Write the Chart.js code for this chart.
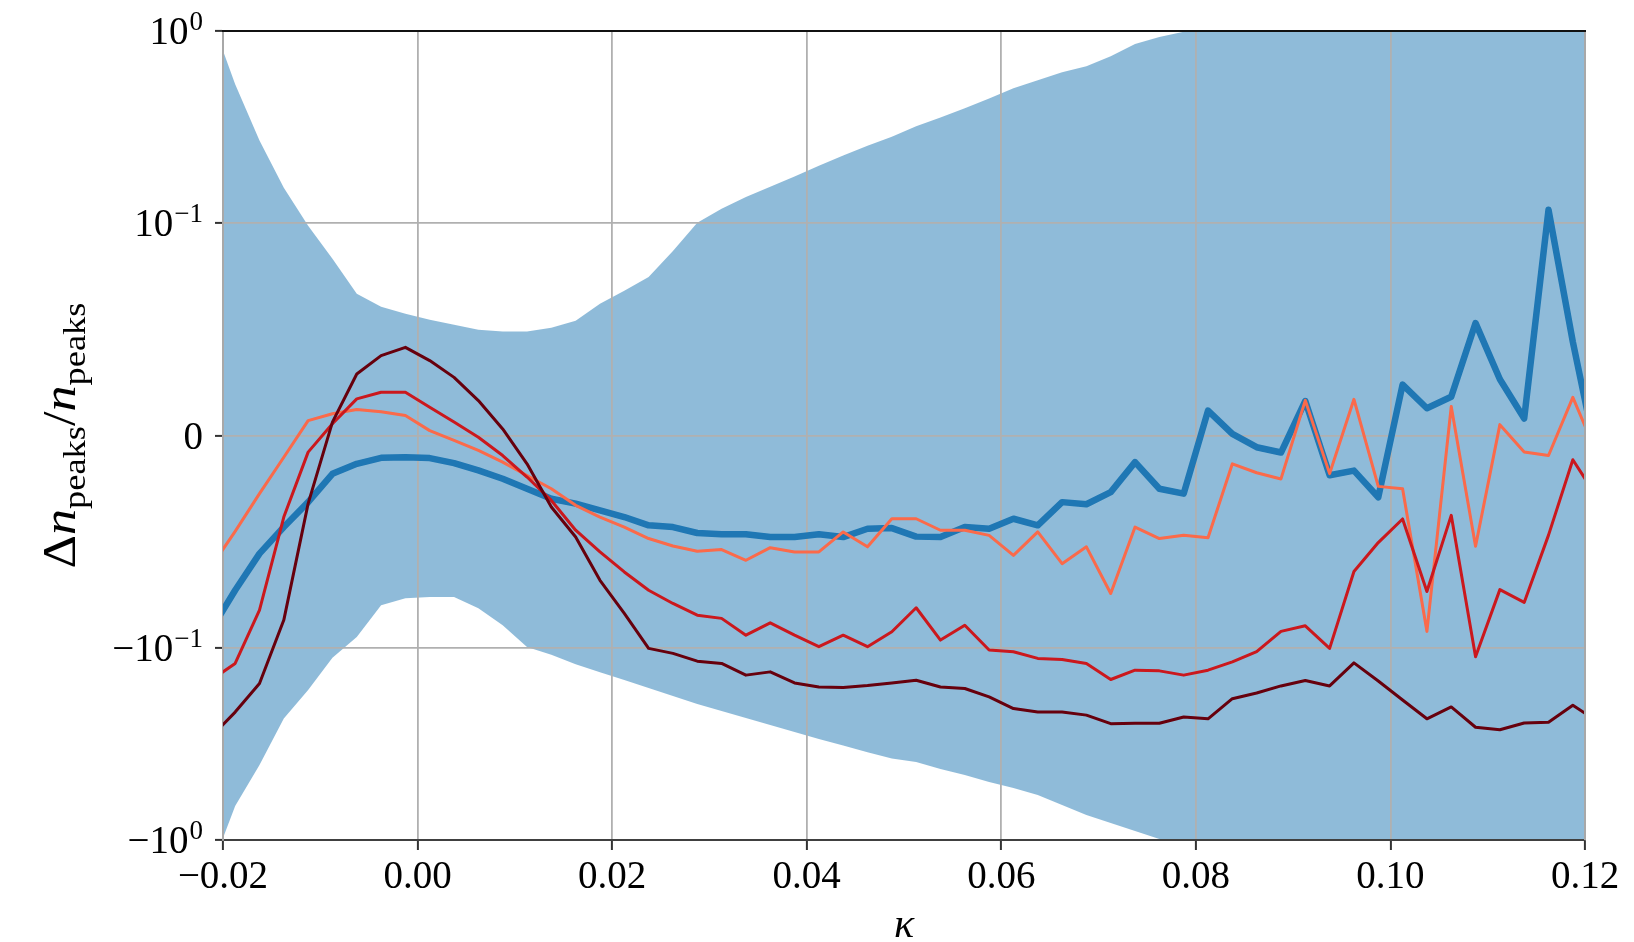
<!DOCTYPE html>
<html>
<head>
<meta charset="utf-8">
<script src="https://cdn.jsdelivr.net/npm/chart.js@4.4.1/dist/chart.umd.min.js"></script>
<style>
  html, body { margin: 0; padding: 0; background: #fff; }
  canvas { display: block; }
</style>
</head>
<body>
<canvas id="chart" width="1634" height="942"></canvas>
<script>
// kappa sample points (bin centres, one either side runs past the axis limits)
const KAPPA = [
  -0.02125, -0.01875, -0.01625, -0.01375, -0.01125, -0.00875, -0.00625, -0.00375, -0.00125, 0.00125,
  0.00375, 0.00625, 0.00875, 0.01125, 0.01375, 0.01625, 0.01875, 0.02125, 0.02375, 0.02625,
  0.02875, 0.03125, 0.03375, 0.03625, 0.03875, 0.04125, 0.04375, 0.04625, 0.04875, 0.05125,
  0.05375, 0.05625, 0.05875, 0.06125, 0.06375, 0.06625, 0.06875, 0.07125, 0.07375, 0.07625,
  0.07875, 0.08125, 0.08375, 0.08625, 0.08875, 0.09125, 0.09375, 0.09625, 0.09875, 0.10125,
  0.10375, 0.10625, 0.10875, 0.11125, 0.11375, 0.11625, 0.11875, 0.12125
];

const SERIES_BLUE = [
  -0.0914, -0.0727, -0.0555, -0.0430, -0.0313, -0.0180, -0.0133, -0.0105, -0.0102, -0.0106,
  -0.0130, -0.0164, -0.0203, -0.0250, -0.0297, -0.0320, -0.0352, -0.0383, -0.0422, -0.0430,
  -0.0458, -0.0464, -0.0464, -0.0477, -0.0477, -0.0464, -0.0477, -0.0438, -0.0435, -0.0475,
  -0.0477, -0.0430, -0.0438, -0.0391, -0.0422, -0.0313, -0.0323, -0.0266, -0.0125, -0.0250,
  -0.0273, 0.0117, 0.0008, -0.0055, -0.0080, 0.0162, -0.0187, -0.0165, -0.0290, 0.0239,
  0.0128, 0.0182, 0.0528, 0.0264, 0.0080, 0.1166, 0.0440, -0.0110
];

const SERIES_SALMON = [
  -0.0619, -0.0450, -0.0273, -0.0102, 0.0070, 0.0102, 0.0122, 0.0112, 0.0094, 0.0023,
  -0.0023, -0.0070, -0.0125, -0.0188, -0.0250, -0.0328, -0.0383, -0.0430, -0.0484, -0.0519,
  -0.0544, -0.0536, -0.0586, -0.0527, -0.0547, -0.0547, -0.0453, -0.0523, -0.0391, -0.0391,
  -0.0445, -0.0445, -0.0469, -0.0563, -0.0453, -0.0602, -0.0523, -0.0742, -0.0430, -0.0484,
  -0.0469, -0.0480, -0.0133, -0.0175, -0.0204, 0.0165, -0.0179, 0.0170, -0.0239, -0.0250,
  -0.0920, 0.0136, -0.0520, 0.0051, -0.0077, -0.0094, 0.0179, -0.0090
];

const SERIES_RED = [
  -0.1466, -0.1198, -0.0820, -0.0383, -0.0078, 0.0055, 0.0172, 0.0203, 0.0203, 0.0133,
  0.0063, -0.0008, -0.0094, -0.0195, -0.0305, -0.0445, -0.0547, -0.0641, -0.0727, -0.0789,
  -0.0844, -0.0859, -0.0938, -0.0880, -0.0938, -0.0992, -0.0938, -0.0992, -0.0922, -0.0809,
  -0.0961, -0.0891, -0.1020, -0.1042, -0.1128, -0.1142, -0.1198, -0.1453, -0.1299, -0.1310,
  -0.1379, -0.1299, -0.1175, -0.1040, -0.0920, -0.0894, -0.1000, -0.0639, -0.0503, -0.0392,
  -0.0733, -0.0375, -0.1106, -0.0724, -0.0784, -0.0468, -0.0114, -0.0291
];

const SERIES_DARKRED = [
  -0.290, -0.215, -0.1525, -0.0867, -0.0320, 0.0063, 0.0289, 0.0375, 0.0414, 0.0352,
  0.0273, 0.0164, 0.0031, -0.0133, -0.0336, -0.0477, -0.0680, -0.0836, -0.1000, -0.1062,
  -0.1166, -0.1198, -0.1379, -0.1326, -0.1514, -0.1589, -0.1600, -0.1563, -0.1514, -0.1466,
  -0.159, -0.162, -0.179, -0.206, -0.215, -0.215, -0.223, -0.247, -0.246, -0.246,
  -0.228, -0.233, -0.183, -0.171, -0.157, -0.147, -0.157, -0.119, -0.148, -0.186,
  -0.233, -0.202, -0.258, -0.266, -0.245, -0.243, -0.198, -0.240
];

// shaded band
const BAND_UPPER = [
  1.18, 0.527, 0.268, 0.152, 0.0985, 0.0830, 0.0666, 0.0605, 0.0572, 0.0544,
  0.0520, 0.0497, 0.0488, 0.0488, 0.0506, 0.0539, 0.0619, 0.0680, 0.0745, 0.0867,
  0.0999, 0.118, 0.136, 0.154, 0.174, 0.198, 0.224, 0.252, 0.281, 0.318,
  0.354, 0.395, 0.445, 0.502, 0.553, 0.610, 0.655, 0.739, 0.855, 0.930,
  0.990, 1.05, 1.10, 1.15, 1.20, 1.25, 1.30, 1.35, 1.40, 1.45,
  1.50, 1.55, 1.60, 1.65, 1.70, 1.75, 1.80, 1.85
];

const BAND_LOWER = [
  -1.43, -0.665, -0.406, -0.232, -0.165, -0.112, -0.0947, -0.0797, -0.0764, -0.0759,
  -0.0759, -0.0811, -0.0891, -0.0994, -0.108, -0.121, -0.133, -0.146, -0.161, -0.177,
  -0.195, -0.212, -0.231, -0.251, -0.273, -0.297, -0.321, -0.348, -0.376, -0.392,
  -0.426, -0.458, -0.498, -0.535, -0.582, -0.656, -0.741, -0.815, -0.898, -0.988,
  -1.08, -1.17, -1.27, -1.37, -1.47, -1.58, -1.70, -1.82, -1.95, -2.10,
  -2.25, -2.40, -2.55, -2.70, -2.85, -3.00, -3.20, -3.40
];

const X_TICKS = [-0.02, 0, 0.02, 0.04, 0.06, 0.08, 0.10, 0.12];
const Y_TICKS = [-1, -0.1, 0, 0.1, 1];
const Y_TICK_BASE = ['−10', '−10', '0', '10', '10'];
const Y_TICK_EXP = ['0', '−1', '', '−1', '0'];

const FONT = '"Liberation Serif", "DejaVu Serif", serif';

// symlog transform like matplotlib (linthresh 0.1, linscale 1)
const LINTHRESH = 0.1;
const LINSCALE = 1 / (1 - 1 / 10);
function symT(v) {
  const a = Math.abs(v);
  const t = a <= LINTHRESH ? (a / LINTHRESH) * LINSCALE : LINSCALE + Math.log10(a / LINTHRESH);
  return Math.sign(v) * t;
}
function symInv(t) {
  const a = Math.abs(t);
  const v = a <= LINSCALE ? (a / LINSCALE) * LINTHRESH : LINTHRESH * Math.pow(10, a - LINSCALE);
  return Math.sign(t) * v;
}

class SymlogScale extends Chart.Scale {
  determineDataLimits() {
    this.min = this.options.min;
    this.max = this.options.max;
  }
  buildTicks() {
    return Y_TICKS.map((v) => ({ value: v }));
  }
  configure() {
    super.configure();
    this._tStart = symT(this.min);
    this._tEnd = symT(this.max);
  }
  getLabelForValue(v) {
    return String(v);
  }
  getPixelForValue(v) {
    return this.getPixelForDecimal((symT(v) - this._tStart) / (this._tEnd - this._tStart));
  }
  getPixelForTick(i) {
    return this.getPixelForValue(this.ticks[i].value);
  }
  getValueForPixel(p) {
    return symInv(this._tStart + this.getDecimalForPixel(p) * (this._tEnd - this._tStart));
  }
}
SymlogScale.id = 'symlog';
SymlogScale.defaults = {};
Chart.register(SymlogScale);

function drawYTitle(ctx, bx, cy, len) {
  const size = 46;
  const sub = size * 0.7;
  const parts = [
    { t: 'Δ', f: `${size}px ${FONT}`, dy: 0 },
    { t: 'n', f: `italic ${size}px ${FONT}`, dy: 0 },
    { t: 'peaks', f: `${sub}px ${FONT}`, dy: size * 0.22 },
    { t: '/', f: `${size}px ${FONT}`, dy: 0 },
    { t: 'n', f: `italic ${size}px ${FONT}`, dy: 0 },
    { t: 'peaks', f: `${sub}px ${FONT}`, dy: size * 0.22 },
  ];
  let total = 0;
  parts.forEach((p) => {
    ctx.font = p.f;
    p.w = ctx.measureText(p.t).width;
    total += p.w;
  });
  ctx.save();
  ctx.translate(bx, cy);
  ctx.rotate(-Math.PI / 2);
  ctx.scale(len / total, 1);
  ctx.textAlign = 'left';
  ctx.textBaseline = 'alphabetic';
  ctx.fillStyle = '#000';
  let x = -total / 2;
  parts.forEach((p) => {
    ctx.font = p.f;
    ctx.fillText(p.t, x, p.dy);
    x += p.w;
  });
  ctx.restore();
}

const axisDecor = {
  id: 'axisDecor',
  afterDraw(chart) {
    const { ctx, chartArea: a, scales } = chart;
    ctx.save();
    ctx.lineWidth = 2;
    ctx.strokeStyle = '#a8a8a8';
    ctx.beginPath();
    ctx.moveTo(a.right, a.top);
    ctx.lineTo(a.right, a.bottom);
    ctx.stroke();
    ctx.strokeStyle = '#111';
    ctx.beginPath();
    ctx.moveTo(a.left - 1, a.top);
    ctx.lineTo(a.right + 1, a.top);
    ctx.stroke();

    // y tick labels with exponents
    ctx.fillStyle = '#000';
    ctx.textAlign = 'right';
    ctx.textBaseline = 'alphabetic';
    Y_TICKS.forEach((v, i) => {
      const y = scales.y.getPixelForValue(v);
      let xr = 203;
      if (Y_TICK_EXP[i]) {
        ctx.font = `27px ${FONT}`;
        ctx.fillText(Y_TICK_EXP[i], xr, y - 1);
        xr -= ctx.measureText(Y_TICK_EXP[i]).width + 1;
      }
      ctx.font = `39px ${FONT}`;
      ctx.fillText(Y_TICK_BASE[i], xr, y + 13);
    });

    drawYTitle(ctx, 75, (a.top + a.bottom) / 2, 266);

    ctx.font = `italic 42px ${FONT}`;
    ctx.textAlign = 'center';
    ctx.fillText('κ', (a.left + a.right) / 2, 937);
    ctx.restore();
  },
};

const pts = (ys) => KAPPA.map((x, i) => ({ x, y: ys[i] }));
const lineBase = { pointRadius: 0, tension: 0, clip: 0, borderJoinStyle: 'round', fill: false };

new Chart(document.getElementById('chart'), {
  type: 'line',
  data: {
    datasets: [
      { ...lineBase, data: pts(SERIES_DARKRED), borderColor: '#67000d', borderWidth: 3, order: 1 },
      { ...lineBase, data: pts(SERIES_RED), borderColor: '#cb181d', borderWidth: 3, order: 2 },
      { ...lineBase, data: pts(SERIES_SALMON), borderColor: '#fb6a4a', borderWidth: 3, order: 3 },
      { ...lineBase, data: pts(SERIES_BLUE), borderColor: '#1f77b4', borderWidth: 6.5, order: 4 },
      { ...lineBase, data: pts(BAND_UPPER), borderColor: 'rgba(0,0,0,0)', borderWidth: 0,
        backgroundColor: 'rgba(31,119,180,0.5)', fill: '+1', order: 5 },
      { ...lineBase, data: pts(BAND_LOWER), borderColor: 'rgba(0,0,0,0)', borderWidth: 0, order: 6 },
    ],
  },
  options: {
    responsive: false,
    animation: false,
    devicePixelRatio: 1,
    events: [],
    layout: { padding: { top: 31, right: 49, left: 0, bottom: 0 } },
    plugins: {
      legend: { display: false },
      tooltip: { enabled: false },
      filler: { drawTime: 'beforeDraw', propagate: false },
    },
    scales: {
      x: {
        type: 'linear',
        min: -0.02,
        max: 0.12,
        afterBuildTicks: (s) => { s.ticks = X_TICKS.map((v) => ({ value: v })); },
        afterFit: (s) => { s.height = 102; },
        ticks: {
          font: { family: FONT, size: 39 },
          color: '#000',
          padding: 4,
          maxRotation: 0,
          autoSkip: false,
          callback: (v) => (Math.abs(v) < 1e-9 ? '0.00' : Number(v).toFixed(2).replace('-', '−')),
        },
        grid: { color: '#b0b0b0', lineWidth: 1.8, tickLength: 10, tickColor: '#333', tickWidth: 2 },
        border: { display: true, color: '#404040', width: 2 },
      },
      y: {
        type: 'symlog',
        min: -1,
        max: 1,
        afterFit: (s) => { s.width = 223; },
        ticks: { display: false },
        grid: { color: '#b0b0b0', lineWidth: 1.8, tickLength: 8, tickColor: '#333', tickWidth: 2 },
        border: { display: true, color: '#a8a8a8', width: 2 },
      },
    },
  },
  plugins: [axisDecor],
});
</script>
</body>
</html>
